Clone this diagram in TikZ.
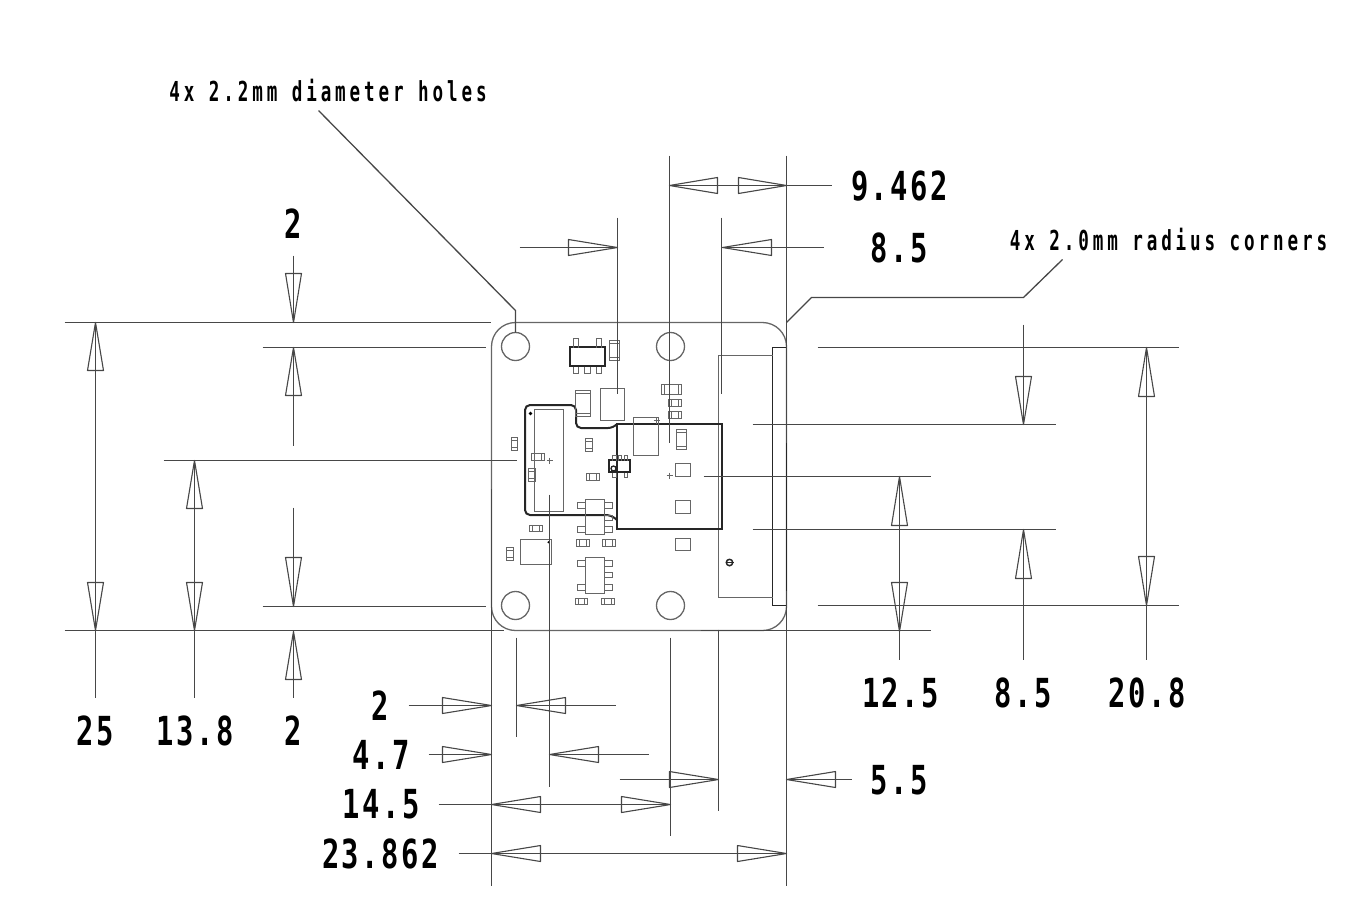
\documentclass[tikz,border=0pt]{standalone}
\usepackage{fontspec}
\setmainfont{DejaVu Sans Mono}
\newfontfamily\dimfont[LetterSpace=8.8]{DejaVu Sans Mono}
\newfontfamily\notefont[LetterSpace=22]{DejaVu Sans Mono}
\tikzset{
  ln/.style={draw=black!72,line width=1.3pt},
  tip/.style={draw=black!72,line width=1.1pt,line join=round},
  pcb/.style={draw=black!60,line width=1.3pt},
  heavy/.style={draw=black!85,line width=2pt,shift={(-0.5,-0.5)}},
  dimlabel/.style={inner sep=0pt,font=\dimfont\fontsize{40}{40}\selectfont\bfseries},
  notelabel/.style={inner sep=0pt,font=\notefont\fontsize{27.5}{27.5}\selectfont\bfseries},
}
\newcommand{\dimtext}[1]{\scalebox{0.72}[1]{#1}}
\newcommand{\notetext}[1]{\scalebox{0.64}[1]{#1}}
% arrows: tip x, tip y, base coordinate
\newcommand{\harr}[3]{\draw[tip] (#1,#2)--(#3,#2-8)--(#3,#2+8)--cycle;}
\newcommand{\varr}[3]{\draw[tip] (#1,#2)--(#1-8,#3)--(#1+8,#3)--cycle;}
\newcommand{\hcap}[4]{\draw[pcb] (#1,#2) rectangle (#3,#4); \draw[pcb] (#1+3,#2)--(#1+3,#4) (#3-3,#2)--(#3-3,#4);}
\newcommand{\vcap}[4]{\draw[pcb] (#1,#2) rectangle (#3,#4); \draw[pcb] (#1,#2+3)--(#3,#2+3) (#1,#4-3)--(#3,#4-3);}
\newcommand{\plusmark}[2]{\draw[pcb] (#1-3,#2)--(#1+3,#2) (#1,#2-3)--(#1,#2+3);}
\begin{document}
\begin{tikzpicture}[x=1pt,y=-1pt]
\useasboundingbox (0,0) rectangle (1356,922);
\begin{scope}[shift={(0.5,0.5)}]
% board
\draw[pcb,rounded corners=24pt] (491,322) rectangle (786,630);
\foreach \x/\y in {515/346,670/346,515/605,670/605} \draw[pcb] (\x,\y) circle (14);
% connector on right
\draw[pcb,draw=black!85] (772,347) rectangle (786,605);
\draw[pcb] (772,355)--(718,355)--(718,597)--(772,597);
\draw[pcb,draw=black!85,line width=1.5pt] (729,562) circle (3.2);
\draw[pcb,draw=black!85] (725,562)--(733,562);
% module
\draw[heavy] (617,424) rectangle (722,529);
\draw[heavy,rounded corners=5pt] (617,424)--(613,428)--(576,428)--(576,405)--(525,405)--(525,515)--(611,515)--(617,520);
% long chip
\draw[pcb] (534,409) rectangle (563,511);
\fill[black] (530,413) circle (1.8);
\plusmark{549}{460}
% parts
\draw[pcb] (600,388) rectangle (624,420);
\vcap{575}{390}{590}{416}
\draw[pcb] (633,417) rectangle (658,455);
\plusmark{656}{420}
\vcap{676}{429}{686}{449}
\hcap{661}{384}{681}{394}
\hcap{668}{399}{681}{406}
\hcap{668}{411}{681}{418}
% top SOT
\draw[heavy] (570,347) rectangle (605,366);
\foreach \a/\b in {573/578,596/601} \draw[pcb] (\a,347)--(\a,338)--(\b,338)--(\b,347);
\foreach \a/\b in {573/578,584/590,596/601} \draw[pcb] (\a,366)--(\a,373)--(\b,373)--(\b,366);
\vcap{609}{340}{619}{360}
\vcap{585}{438}{592}{451}
\vcap{511}{437}{517}{450}
\hcap{531}{453}{544}{460}
\vcap{528}{468}{535}{481}
\hcap{586}{473}{599}{480}
% small black SOT
\draw[heavy] (609,460) rectangle (630,472);
\foreach \a/\b in {612/616,618/621,624/627} \draw[pcb] (\a,460)--(\a,455)--(\b,455)--(\b,460);
\foreach \a/\b in {612/616,624/627} \draw[pcb] (\a,472)--(\a,477)--(\b,477)--(\b,472);
\draw[pcb,draw=black!85] (613,468) circle (2.5);
% module pads
\plusmark{669}{475}
\draw[pcb] (675,463) rectangle (690,476);
\draw[pcb] (675,500) rectangle (690,513);
\draw[pcb] (675,538) rectangle (690,550);
% middle SOT
\draw[pcb,line width=1.6pt] (585,499) rectangle (604,534);
\foreach \a/\b in {502/508,526/532} \draw[pcb] (585,\a)--(577,\a)--(577,\b)--(585,\b);
\foreach \a/\b in {502/508,515/520,526/532} \draw[pcb] (604,\a)--(612,\a)--(612,\b)--(604,\b);
\hcap{529}{525}{542}{531}
\hcap{576}{539}{589}{546}
\hcap{602}{539}{615}{546}
\draw[pcb] (520,539) rectangle (551,564);
\fill[black] (548,541.7) circle (1.2);
\vcap{506}{547}{513}{560}
% lower SOT
\draw[pcb,line width=1.6pt] (585,557) rectangle (604,593);
\foreach \a/\b in {560/566,584/590} \draw[pcb] (585,\a)--(577,\a)--(577,\b)--(585,\b);
\foreach \a/\b in {560/566,572/577,584/590} \draw[pcb] (604,\a)--(612,\a)--(612,\b)--(604,\b);
\hcap{575}{598}{587}{604}
\hcap{601}{598}{614}{604}
% extension lines, left
\draw[ln] (64,322)--(490,322) (262,347)--(485,347) (163,460)--(516,460) (262,606)--(485,606) (64,630)--(503,630);
% extension lines, right
\draw[ln] (700,630)--(930,630) (817,347)--(1178,347) (752,424)--(1055,424) (703,476)--(930,476) (752,529)--(1055,529) (817,605)--(1178,605);
% vertical dims left
\draw[ln] (95,322)--(95,697); \varr{95}{322}{370} \varr{95}{630}{582}
\draw[ln] (194,460)--(194,697); \varr{194}{460}{508} \varr{194}{630}{582}
\draw[ln] (293,255)--(293,322); \varr{293}{322}{273}
\draw[ln] (293,347)--(293,445); \varr{293}{347}{395}
\draw[ln] (293,507)--(293,606); \varr{293}{606}{557}
\draw[ln] (293,631)--(293,697); \varr{293}{631}{679}
% vertical dims right
\draw[ln] (899,476)--(899,659); \varr{899}{476}{525} \varr{899}{631}{582}
\draw[ln] (1023,324)--(1023,424); \varr{1023}{424}{376}
\draw[ln] (1023,529)--(1023,659); \varr{1023}{529}{578}
\draw[ln] (1146,347)--(1146,659); \varr{1146}{347}{396} \varr{1146}{605}{556}
% top extension lines
\draw[ln] (669,155)--(669,442) (786,155)--(786,442) (617,217)--(617,393) (721,217)--(721,393);
% top dims
\draw[ln] (669,185)--(831,185); \harr{669}{185}{717} \harr{786}{185}{738}
\draw[ln] (519,247)--(617,247); \harr{617}{247}{568}
\draw[ln] (722,247)--(823,247); \harr{722}{247}{771}
% bottom extension lines
\draw[ln] (491,488)--(491,885) (786,590)--(786,885) (516,637)--(516,736) (549,494)--(549,786) (670,637)--(670,835) (718,629)--(718,810);
% bottom dims
\draw[ln] (408,705)--(491,705); \harr{491}{705}{442}
\draw[ln] (516,705)--(615,705); \harr{516}{705}{565}
\draw[ln] (428,754)--(491,754); \harr{491}{754}{442}
\draw[ln] (549,754)--(648,754); \harr{549}{754}{598}
\draw[ln] (619,779)--(718,779); \harr{718}{779}{669}
\draw[ln] (786,779)--(851,779); \harr{786}{779}{835}
\draw[ln] (438,804)--(670,804); \harr{491}{804}{540} \harr{670}{804}{621}
\draw[ln] (458,853)--(786,853); \harr{491}{853}{540} \harr{786}{853}{737}
% leaders
\draw[ln] (318,110)--(515,310)--(515,332);
\draw[ln] (1062,259)--(1023,297)--(811,297)--(786,322);
\end{scope}
% labels
\node[notelabel] (holes) at (328,91) {\notetext{4x 2.2mm diameter holes}};
\node[notelabel] (corners) at (1168.5,239.5) {\notetext{4x 2.0mm radius corners}};
\node[dimlabel] (d9) at (899.5,186) {\dimtext{9.462}};
\node[dimlabel] (d85a) at (899.5,248) {\dimtext{8.5}};
\node[dimlabel] (d2a) at (293,224) {\dimtext{2}};
\node[dimlabel] (d25) at (95.5,731) {\dimtext{25}};
\node[dimlabel] (d138) at (195,731) {\dimtext{13.8}};
\node[dimlabel] (d2b) at (293,731) {\dimtext{2}};
\node[dimlabel] (d125) at (900.5,693) {\dimtext{12.5}};
\node[dimlabel] (d85b) at (1023.5,693) {\dimtext{8.5}};
\node[dimlabel] (d208) at (1147,693) {\dimtext{20.8}};
\node[dimlabel] (d2c) at (380,706) {\dimtext{2}};
\node[dimlabel] (d47) at (381,755) {\dimtext{4.7}};
\node[dimlabel] (d55) at (899.5,780) {\dimtext{5.5}};
\node[dimlabel] (d145) at (381,804) {\dimtext{14.5}};
\node[dimlabel] (d238) at (380.5,854) {\dimtext{23.862}};
\end{tikzpicture}
\end{document}
